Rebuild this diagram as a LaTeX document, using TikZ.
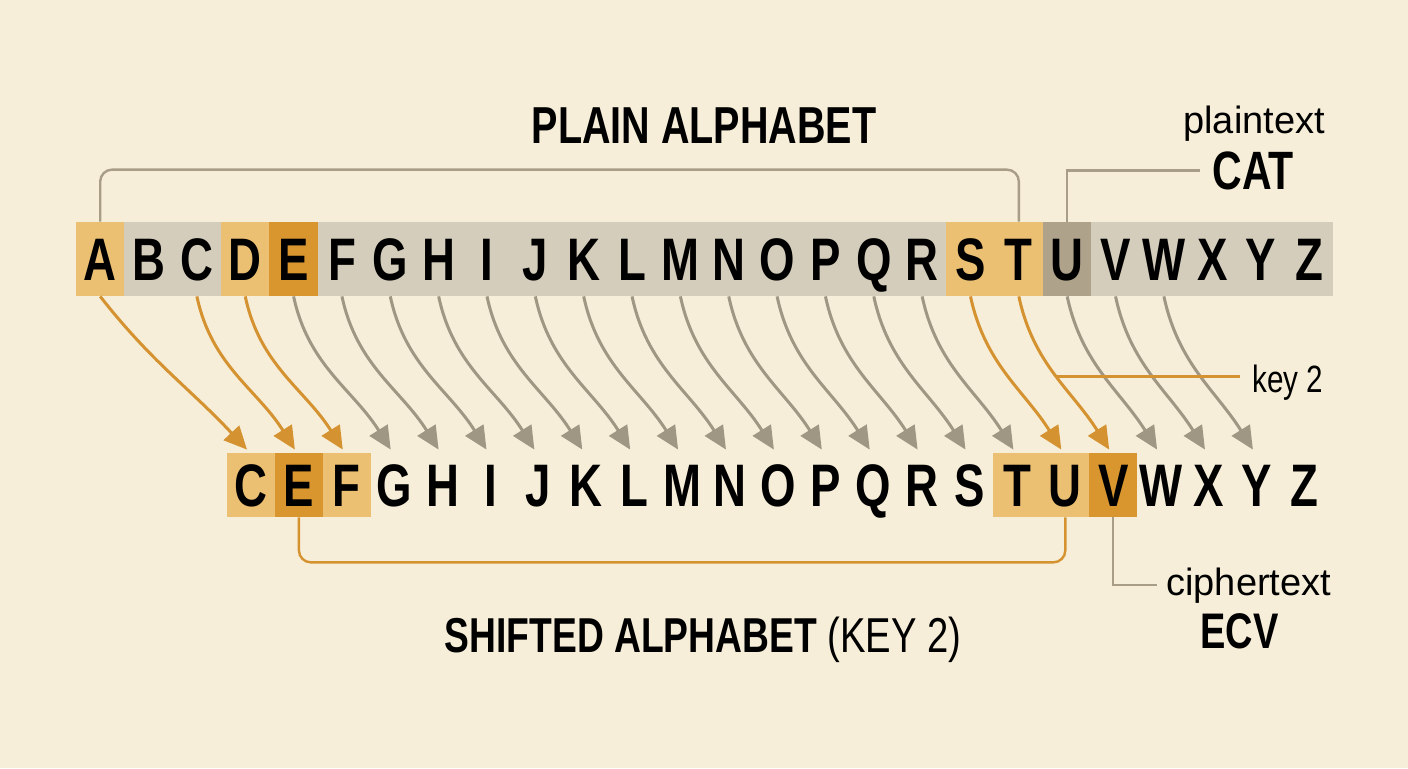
\documentclass[tikz,border=0pt]{standalone}
\usepackage{fontspec}
\setmainfont{Liberation Sans}
\newfontfamily\condfont[FakeStretch=0.76]{Liberation Sans}
\newfontfamily\thinfont[FakeStretch=0.78]{Liberation Sans}
\usetikzlibrary{arrows.meta,positioning}

\definecolor{bgcream}{HTML}{F6EED8}
\definecolor{stripgray}{HTML}{D4CDBB}
\definecolor{litorange}{HTML}{ECC072}
\definecolor{deeporange}{HTML}{D9962E}
\definecolor{ugray}{HTML}{AEA28B}
\definecolor{arrowgray}{HTML}{9F9683}
\definecolor{arroworange}{HTML}{D59231}
\definecolor{linegray}{HTML}{A89E88}

\tikzset{
  topcell/.style={minimum width=24.17pt, minimum height=37pt, inner sep=0pt,
                  text height=21.5pt, text depth=0pt,
                  font=\condfont\bfseries\fontsize{30}{30}\selectfont},
  botcell/.style={topcell, minimum width=23.95pt, minimum height=32pt},
  shiftarrow/.style={line width=1.5pt, -{Triangle[length=11.5pt,width=10.5pt]}},
  bracket/.style={line width=1.2pt, rounded corners=6pt},
  pointer/.style={line width=1.2pt, linegray},
  heading/.style={inner sep=0pt, anchor=base,
                  font=\condfont\bfseries\fontsize{26}{26}\selectfont},
  note/.style={inner sep=0pt, anchor=base west, font=\fontsize{19}{19}\selectfont},
  answer/.style={inner sep=0pt, anchor=base west,
                 font=\condfont\bfseries\fontsize{27}{27}\selectfont}
}

\begin{document}
\begin{tikzpicture}[x=0.5pt,y=0.5pt]
  \useasboundingbox    (0,0) rectangle (1408,768);
  \fill[bgcream]       (0,0) rectangle (1408,768);

  % plain alphabet
  \foreach \l/\c [count=\i from 0] in {A/litorange,B/stripgray,C/stripgray,D/litorange,
      E/deeporange,F/stripgray,G/stripgray,H/stripgray,I/stripgray,J/stripgray,
      K/stripgray,L/stripgray,M/stripgray,N/stripgray,O/stripgray,P/stripgray,
      Q/stripgray,R/stripgray,S/litorange,T/litorange,U/ugray,V/stripgray,
      W/stripgray,X/stripgray,Y/stripgray,Z/stripgray}
    \node[topcell, fill=\c] (top-\l) at ({100.2+48.35*\i},509) {\l};

  % shifted alphabet
  \foreach \l/\c [count=\i from 0] in {C/litorange,E/deeporange,F/litorange,
      G/none,H/none,I/none,J/none,K/none,L/none,M/none,N/none,O/none,P/none,
      Q/none,R/none,S/none,T/litorange,U/litorange,V/deeporange,W/none,
      X/none,Y/none,Z/none}
    \node[botcell, fill=\c] (bot-\l) at ({251+47.9*\i},283) {\l};

  % shift arrows
  \foreach \a/\b/\c/\o/\n in {A/C/arroworange/-52/133,C/E/arroworange/-78/122,
      D/F/arroworange/-78/122,E/G/arrowgray/-78/122,F/H/arrowgray/-78/122,
      G/I/arrowgray/-78/122,H/J/arrowgray/-78/122,I/K/arrowgray/-78/122,
      J/L/arrowgray/-78/122,K/M/arrowgray/-78/122,L/N/arrowgray/-78/122,
      M/O/arrowgray/-78/122,N/P/arrowgray/-78/122,O/Q/arrowgray/-78/122,
      P/R/arrowgray/-78/122,Q/S/arrowgray/-78/122,R/T/arrowgray/-78/122,
      S/U/arroworange/-78/122,T/V/arroworange/-78/122,U/W/arrowgray/-78/122,
      V/X/arrowgray/-78/122,W/Y/arrowgray/-78/122}
    \draw[shiftarrow, color=\c] (top-\a.south) to[out=\o,in=\n]
      coordinate[pos=0.5] (mid-\a) ([xshift=-2pt,yshift=1.5pt]bot-\b.north);

  % headings
  \node[heading]                      (plainhead) at (704,625) {PLAIN ALPHABET};
  \node[heading, font=\condfont\bfseries\fontsize{24.5}{24.5}\selectfont]
                                      (shifthead) at (703,116)
    {SHIFTED ALPHABET {\thinfont\mdseries(KEY 2)}};

  % side notes
  \node[note]                         (plainnote) at (1183,635) {plaintext};
  \node[answer]                       (cat)       at (1212,579) {CAT};
  \node[note, font=\thinfont\fontsize{19}{19}\selectfont]
                                      (key)       at (1252,376) {key 2};
  \node[note]                         (ciphnote)  at (1166,173) {ciphertext};
  \node[answer, font=\condfont\bfseries\fontsize{25}{25}\selectfont]
                                      (ecv)       at (1200,120) {ECV};

  % brackets and pointers
  \draw[bracket, linegray]    (top-A.north) -- ++(0,52) -| (top-T.north);
  \draw[bracket, arroworange] (bot-E.south) -- ++(0,-45) -| (bot-U.south);
  \draw[pointer, shorten >=6pt]   (top-U.north) |- (cat.west);
  \draw[pointer, shorten >=4.5pt] (bot-V.south) |- (ciphnote.west);
  \draw[line width=1.2pt, arroworange, shorten >=6pt] (mid-T) -- (mid-T -| key.west);
\end{tikzpicture}
\end{document}
